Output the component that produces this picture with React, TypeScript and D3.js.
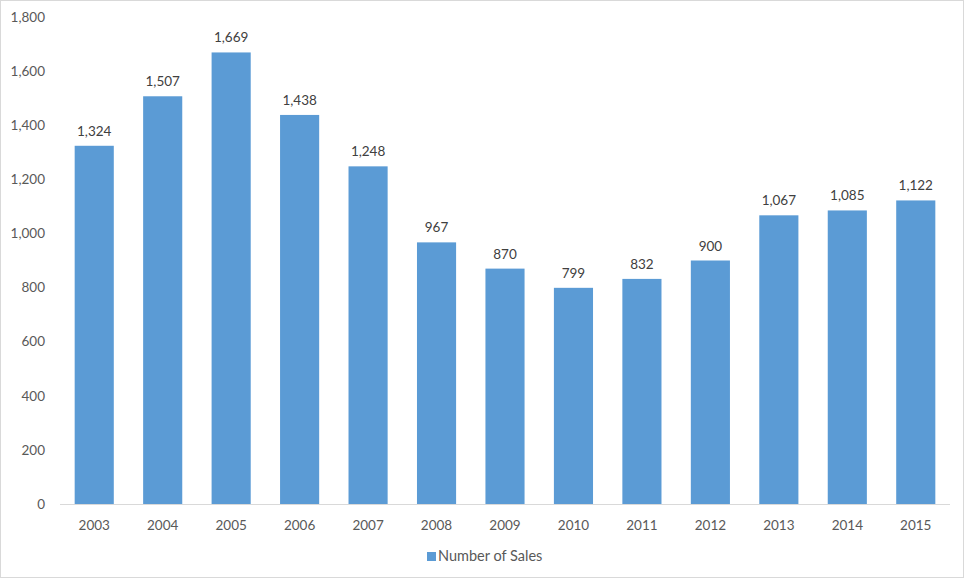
import React, { useEffect, useRef } from "react";
import * as d3 from "d3";

const years = ["2003","2004","2005","2006","2007","2008","2009","2010","2011","2012","2013","2014","2015"];
const sales = [1324,1507,1669,1438,1248,967,870,799,832,900,1067,1085,1122];
const yTicks = [0,200,400,600,800,1000,1200,1400,1600,1800];
const seriesName = "Number of Sales";

const W = 965, H = 579;
const FONT = "Lato, 'Open Sans', sans-serif";
const TEXT = "#595959";
const BAR = "#5b9bd5";

export default function App() {
  const ref = useRef<SVGSVGElement>(null);
  useEffect(() => {
    document.body.style.margin = "0";
    const svg = d3.select(ref.current);
    svg.selectAll("*").remove();
    const x = d3.scaleBand().domain(years).range([60, 950]).paddingInner(0.75 / 1.75).paddingOuter(0.75 / 3.5);
    const y = d3.scaleLinear().domain([0, 1800]).range([504, 17]);

    svg.append("rect").attr("x", 0.5).attr("y", 0.5).attr("width", W - 2).attr("height", H - 2)
      .attr("fill", "#fff").attr("stroke", "#d9d9d9");

    svg.append("g").selectAll("text").data(yTicks).join("text")
      .attr("x", 45).attr("y", d => y(d)).attr("dy", "0.35em")
      .attr("text-anchor", "end").attr("font-family", FONT).attr("font-size", 13.5).attr("fill", TEXT)
      .text(d => d3.format(",")(d));

    svg.append("g").selectAll("rect").data(sales).join("rect")
      .attr("x", (_, i) => x(years[i])!).attr("width", x.bandwidth())
      .attr("y", d => y(d)).attr("height", d => y(0) - y(d)).attr("fill", BAR);

    svg.append("line").attr("x1", 60).attr("x2", 950).attr("y1", y(0) + 0.5).attr("y2", y(0) + 0.5)
      .attr("stroke", "#d9d9d9");

    svg.append("g").selectAll("text").data(sales).join("text")
      .attr("x", (_, i) => x(years[i])! + x.bandwidth() / 2).attr("y", d => y(d) - 10)
      .attr("text-anchor", "middle").attr("font-family", FONT).attr("font-size", 13.5).attr("fill", "#404040")
      .text(d => d3.format(",")(d));

    svg.append("g").selectAll("text").data(years).join("text")
      .attr("x", d => x(d)! + x.bandwidth() / 2).attr("y", 530)
      .attr("text-anchor", "middle").attr("font-family", FONT).attr("font-size", 13.5).attr("fill", TEXT)
      .text(d => d);

    const lg = svg.append("g");
    lg.append("rect").attr("x", 427).attr("y", 552).attr("width", 9).attr("height", 9).attr("fill", BAR);
    lg.append("text").attr("x", 438).attr("y", 561).attr("font-family", FONT).attr("font-size", 14.5)
      .attr("fill", TEXT).text(seriesName);
  }, []);
  return <svg ref={ref} width={W} height={H} style={{ display: "block" }} />;
}
